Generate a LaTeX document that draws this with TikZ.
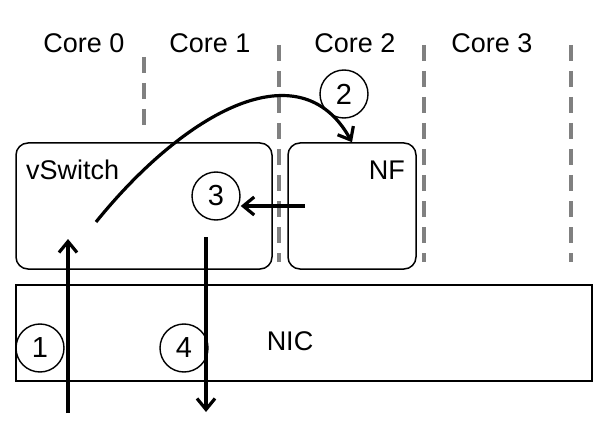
\documentclass[tikz,border=0pt]{standalone}
\usepackage{fontspec}
\setmainfont{Liberation Sans}
\usetikzlibrary{arrows.meta}
\begin{document}
\begin{tikzpicture}[x=1pt,y=-1pt,
  lbl/.style={font=\fontsize{27}{32}\selectfont, inner sep=0pt},
  unit/.style={draw, line width=1.5pt, rounded corners=12pt, minimum height=126pt},
  stepnum/.style={draw, circle, line width=1.4pt, minimum size=48pt, inner sep=0pt, font=\fontsize{29}{32}\selectfont},
  flow/.style={line width=3.2pt, -{Straight Barb[length=11pt,width=18pt]}},
  divider/.style={gray, line width=3.5pt, dash pattern=on 16pt off 10pt}]
\useasboundingbox (0,0) rectangle (608,425);

% cores and the dashed borders between them
\node[lbl] (core0) at (84,43) {Core 0};
\node[lbl] (core1) at (210,43) {Core 1};
\node[lbl] (core2) at (355,43) {Core 2};
\node[lbl] (core3) at (492,43) {Core 3};
\draw[divider] (144,57) -- (144,128);
\draw[divider] (279,45) -- (279,262);
\draw[divider] (424,45) -- (424,262);
\draw[divider] (571,45) -- (571,262);

\node[unit, minimum width=256pt] (vswitch) at (144,206) {};
\node[unit, minimum width=128pt] (nf) at (352,206) {};
\node[draw, line width=1.5pt, minimum width=576pt, minimum height=96pt] (nic) at (304,333) {};
\node[lbl, anchor=west] (vswitchname) at (26,170) {vSwitch};
\node[lbl, anchor=east] (nfname) at (405,170) {NF};
\node[lbl] (nicname) at (290,341) {NIC};

% numbered steps
\node[stepnum] (one) at (40,348) {1};
\node[stepnum] (two) at (344,94) {2};
\node[stepnum] (three) at (216,196) {3};
\node[stepnum] (four) at (184,348) {4};

\coordinate (wire in) at (68,413);
\coordinate (vs in) at (68,239);
\coordinate (vs out) at (96,222);
\coordinate (nf out) at (305,206);
\coordinate (vs back) at (206,237);
\coordinate (wire out) at (206,412);

\draw[flow] (wire in) -- (vs in);
\draw[flow] (vs out) .. controls (185,112) and (300,48) .. (nf.north);
\draw[flow] (nf out) -- (nf out -| three.east);
\draw[flow] (vs back) -- (wire out);
\end{tikzpicture}
\end{document}
